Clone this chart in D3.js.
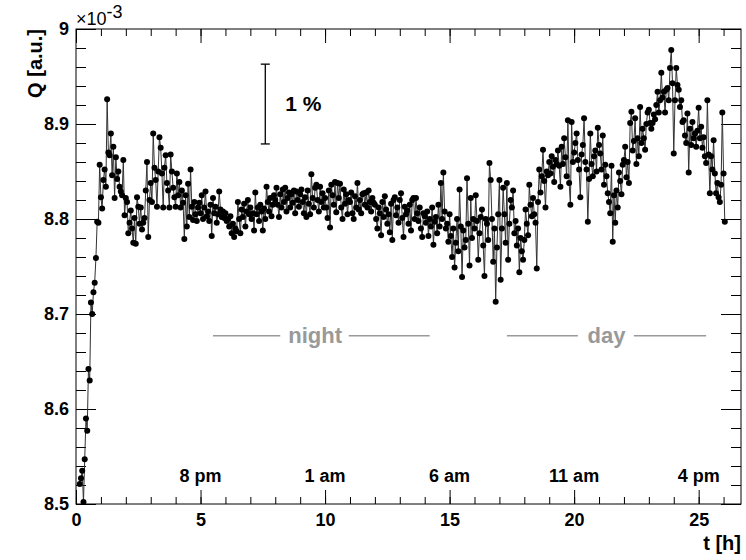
<!DOCTYPE html>
<html lang="en">
<head>
<meta charset="utf-8" />
<title>Q versus time</title>
<script src="https://cdn.jsdelivr.net/npm/d3@7"></script>
<style>
  body { margin: 0; background: #fff; }
  svg text { font-family: "Liberation Sans", Arial, Helvetica, sans-serif; }
</style>
</head>
<body>
<div id="chart"></div>
<script>
/*******************************************
 * data
 *******************************************/

// sampling of the measurement
const tStart = 0.15; // h, first sample
const tStep = 0.05;  // h between samples

// Q in units of 1e-3, one row per hour
const q = [
  // 0 h
  8.521, 8.527, 8.535, 8.502, 8.547, 8.590, 8.577, 8.642, 8.630, 8.712, 8.700, 8.723, 8.733, 8.759, 8.797, 8.796, 8.857,
  // 1 h
  8.823, 8.811, 8.841, 8.852, 8.834, 8.926, 8.870, 8.867, 8.890, 8.846, 8.876, 8.822, 8.865, 8.842, 8.850, 8.834, 8.829, 8.825, 8.862, 8.804,
  // 2 h
  8.822, 8.818, 8.785, 8.796, 8.809, 8.790, 8.775, 8.801, 8.774, 8.823, 8.813, 8.795, 8.812, 8.789, 8.796, 8.801, 8.830, 8.860, 8.781, 8.820,
  // 3 h
  8.838, 8.818, 8.890, 8.854, 8.841, 8.813, 8.850, 8.886, 8.875, 8.848, 8.812, 8.854, 8.867, 8.838, 8.830, 8.812, 8.868, 8.850, 8.833, 8.823,
  // 4 h
  8.813, 8.848, 8.825, 8.839, 8.812, 8.830, 8.817, 8.779, 8.825, 8.792, 8.837, 8.802, 8.852, 8.813, 8.799, 8.818, 8.805, 8.798, 8.812, 8.817,
  // 5 h
  8.806, 8.825, 8.800, 8.812, 8.829, 8.803, 8.808, 8.798, 8.815, 8.782, 8.822, 8.806, 8.813, 8.796, 8.805, 8.829, 8.810, 8.802, 8.808, 8.801,
  // 6 h
  8.806, 8.798, 8.800, 8.792, 8.803, 8.785, 8.795, 8.781, 8.790, 8.787, 8.818, 8.800, 8.785, 8.810, 8.802, 8.816, 8.792, 8.808, 8.820, 8.805,
  // 7 h
  8.812, 8.800, 8.806, 8.788, 8.828, 8.805, 8.812, 8.798, 8.815, 8.808, 8.788, 8.811, 8.800, 8.834, 8.818, 8.808, 8.822, 8.803, 8.815, 8.825,
  // 8 h
  8.820, 8.833, 8.815, 8.802, 8.826, 8.812, 8.831, 8.818, 8.833, 8.808, 8.822, 8.828, 8.812, 8.826, 8.817, 8.830, 8.806, 8.829, 8.820, 8.813,
  // 9 h
  8.826, 8.831, 8.818, 8.806, 8.823, 8.802, 8.830, 8.816, 8.805, 8.847, 8.822, 8.812, 8.833, 8.836, 8.820, 8.808, 8.834, 8.818, 8.827, 8.812,
  // 10 h
  8.822, 8.812, 8.801, 8.830, 8.791, 8.836, 8.825, 8.815, 8.839, 8.807, 8.838, 8.822, 8.837, 8.812, 8.800, 8.831, 8.816, 8.826, 8.805, 8.820,
  // 11 h
  8.818, 8.828, 8.806, 8.800, 8.824, 8.812, 8.838, 8.810, 8.820, 8.806, 8.826, 8.827, 8.815, 8.828, 8.812, 8.830, 8.818, 8.808, 8.822, 8.817,
  // 12 h
  8.815, 8.800, 8.790, 8.812, 8.806, 8.783, 8.818, 8.802, 8.824, 8.810, 8.795, 8.805, 8.786, 8.816, 8.778, 8.820, 8.823, 8.804, 8.812, 8.796,
  // 13 h
  8.820, 8.827, 8.801, 8.781, 8.813, 8.805, 8.809, 8.795, 8.815, 8.788, 8.820, 8.822, 8.800, 8.822, 8.806, 8.798, 8.812, 8.790, 8.781, 8.806,
  // 14 h
  8.803, 8.796, 8.808, 8.782, 8.800, 8.792, 8.812, 8.773, 8.797, 8.802, 8.785, 8.815, 8.792, 8.838, 8.800, 8.849, 8.808, 8.790, 8.795, 8.776,
  // 15 h
  8.805, 8.782, 8.760, 8.790, 8.749, 8.775, 8.800, 8.766, 8.831, 8.792, 8.739, 8.788, 8.770, 8.778, 8.843, 8.795, 8.751, 8.822, 8.780, 8.800,
  // 16 h
  8.790, 8.825, 8.798, 8.757, 8.785, 8.802, 8.810, 8.772, 8.740, 8.800, 8.795, 8.778, 8.859, 8.841, 8.800, 8.755, 8.790, 8.713, 8.770, 8.805,
  // 17 h
  8.841, 8.736, 8.790, 8.833, 8.805, 8.775, 8.838, 8.757, 8.795, 8.820, 8.812, 8.830, 8.785, 8.798, 8.772, 8.790, 8.744, 8.780, 8.766, 8.757,
  // 18 h
  8.778, 8.810, 8.795, 8.783, 8.836, 8.815, 8.803, 8.822, 8.805, 8.796, 8.748, 8.818, 8.852, 8.828, 8.845, 8.873, 8.840, 8.812, 8.850, 8.846,
  // 19 h
  8.860, 8.848, 8.866, 8.855, 8.839, 8.862, 8.858, 8.872, 8.856, 8.834, 8.876, 8.858, 8.885, 8.865, 8.845, 8.904, 8.838, 8.815, 8.902, 8.860,
  // 20 h
  8.870, 8.880, 8.890, 8.862, 8.852, 8.823, 8.868, 8.878, 8.906, 8.860, 8.852, 8.797, 8.842, 8.890, 8.858, 8.845, 8.866, 8.872, 8.850, 8.896,
  // 21 h
  8.878, 8.869, 8.852, 8.888, 8.836, 8.857, 8.845, 8.827, 8.818, 8.806, 8.856, 8.776, 8.825, 8.796, 8.830, 8.812, 8.849, 8.840, 8.826, 8.857,
  // 22 h
  8.862, 8.876, 8.844, 8.860, 8.838, 8.901, 8.913, 8.872, 8.882, 8.906, 8.858, 8.885, 8.866, 8.918, 8.880, 8.895, 8.885, 8.873, 8.900, 8.912,
  // 23 h
  8.915, 8.901, 8.895, 8.901, 8.910, 8.905, 8.920, 8.934, 8.912, 8.925, 8.954, 8.928, 8.934, 8.912, 8.936, 8.938, 8.925, 8.959, 8.978, 8.943,
  // 24 h
  8.869, 8.925, 8.959, 8.941, 8.936, 8.918, 8.925, 8.902, 8.904, 8.888, 8.880, 8.911, 8.849, 8.895, 8.878, 8.902, 8.885, 8.890, 8.876, 8.893,
  // 25 h
  8.917, 8.885, 8.897, 8.875, 8.886, 8.866, 8.859, 8.925, 8.868, 8.827, 8.866, 8.852, 8.883, 8.848, 8.827, 8.838, 8.823, 8.818, 8.836, 8.912,
  // 26 h
  8.848, 8.797
];

// axes
const xTicks = [0, 5, 10, 15, 20, 25];
const xTickLabels = ["0", "5", "10", "15", "20", "25"];
const yTicks = [8.5, 8.6, 8.7, 8.8, 8.9, 9.0];
const yTickLabels = ["8.5", "8.6", "8.7", "8.8", "8.9", "9"];

// annotations
const clockT = [5, 10, 15, 20, 25];
const clockLabels = ["8 pm", "1 am", "6 am", "11 am", "4 pm"];
const periodNames = ["night", "day"];
const periodCenterT = [9.6, 21.3];
const periodLineT = [[5.5, 8.2, 10.95, 14.2], [17.3, 20.15, 22.4, 25.3]];
const scaleBarQ = [8.879, 8.963]; // the "1 %" bar

/*******************************************
 * svg and scales
 *******************************************/

const width = 746;
const height = 560;
const frame = { left: 76, right: 741, top: 29, bottom: 504 };

const svg = d3.select("#chart").append("svg")
  .attr("width", width)
  .attr("height", height);

const xScale = d3.scaleLinear().domain([0, 26.7]).range([frame.left, frame.right]);
const yScale = d3.scaleLinear().domain([8.5, 9.0]).range([frame.bottom, frame.top]);

const points = q.map((v, i) => ({ t: tStart + i * tStep, v: v }));

/*******************************************
 * axes (ROOT style, ticks pointing inwards)
 *******************************************/

const xMinor = d3.range(0, 27);
const yMinor = d3.range(0, 26).map((i) => 8.5 + i * 0.02);

function styleAxis(g) {
  g.select(".domain").remove();
  g.selectAll("line").attr("stroke", "#000");
  g.attr("font-size", 18)
    .attr("font-weight", "bold")
    .attr("font-family", null);
  g.selectAll("text").attr("fill", "#000");
}

// bottom
svg.append("g").attr("transform", `translate(0,${frame.bottom})`)
  .call(d3.axisBottom(xScale).tickValues(xMinor).tickSize(-7).tickFormat(""))
  .call(styleAxis);
svg.append("g").attr("transform", `translate(0,${frame.bottom})`)
  .call(d3.axisBottom(xScale).tickValues(xTicks).tickSize(-14).tickPadding(9)
    .tickFormat((d, i) => xTickLabels[i]))
  .call(styleAxis);

// top
svg.append("g").attr("transform", `translate(0,${frame.top})`)
  .call(d3.axisTop(xScale).tickValues(xMinor).tickSize(-7).tickFormat(""))
  .call(styleAxis);
svg.append("g").attr("transform", `translate(0,${frame.top})`)
  .call(d3.axisTop(xScale).tickValues(xTicks).tickSize(-14).tickFormat(""))
  .call(styleAxis);

// left
svg.append("g").attr("transform", `translate(${frame.left},0)`)
  .call(d3.axisLeft(yScale).tickValues(yMinor).tickSize(-10).tickFormat(""))
  .call(styleAxis);
svg.append("g").attr("transform", `translate(${frame.left},0)`)
  .call(d3.axisLeft(yScale).tickValues(yTicks).tickSize(-20).tickPadding(7)
    .tickFormat((d, i) => yTickLabels[i]))
  .call(styleAxis);

// right
svg.append("g").attr("transform", `translate(${frame.right},0)`)
  .call(d3.axisRight(yScale).tickValues(yMinor).tickSize(-10).tickFormat(""))
  .call(styleAxis);
svg.append("g").attr("transform", `translate(${frame.right},0)`)
  .call(d3.axisRight(yScale).tickValues(yTicks).tickSize(-20).tickFormat(""))
  .call(styleAxis);

// frame
svg.append("rect")
  .attr("x", frame.left)
  .attr("y", frame.top)
  .attr("width", frame.right - frame.left)
  .attr("height", frame.bottom - frame.top)
  .attr("fill", "none")
  .attr("stroke", "#000")
  .attr("stroke-width", 1);

// exponent
const expo = svg.append("text")
  .attr("x", frame.left)
  .attr("y", 25)
  .attr("font-size", 18);
expo.append("tspan").text("\u00d710");
expo.append("tspan").attr("font-size", 18).attr("dy", -7).text("-3");

// axis titles
svg.append("text")
  .attr("transform", `translate(42,${frame.top}) rotate(-90)`)
  .attr("text-anchor", "end")
  .attr("font-size", 20)
  .attr("font-weight", "bold")
  .text("Q [a.u.]");

svg.append("text")
  .attr("x", frame.right)
  .attr("y", 550)
  .attr("text-anchor", "end")
  .attr("font-size", 20)
  .attr("font-weight", "bold")
  .text("t [h]");

/*******************************************
 * data line and markers
 *******************************************/

const line = d3.line()
  .x((d) => xScale(d.t))
  .y((d) => yScale(d.v));

svg.append("path")
  .datum(points)
  .attr("d", line)
  .attr("fill", "none")
  .attr("stroke", "#333")
  .attr("stroke-width", 1);

svg.append("g")
  .selectAll("circle")
  .data(points)
  .enter()
  .append("circle")
  .attr("cx", (d) => xScale(d.t))
  .attr("cy", (d) => yScale(d.v))
  .attr("r", 3)
  .attr("fill", "#000");

/*******************************************
 * annotations
 *******************************************/

// clock times
svg.append("g")
  .selectAll("text")
  .data(clockLabels)
  .enter()
  .append("text")
  .attr("x", (d, i) => xScale(clockT[i]))
  .attr("y", yScale(8.523))
  .attr("text-anchor", "middle")
  .attr("font-size", 18)
  .attr("font-weight", "bold")
  .text((d) => d);

// night / day
const yPeriod = yScale(8.677);
periodNames.forEach((name, i) => {
  svg.append("text")
    .attr("x", xScale(periodCenterT[i]))
    .attr("y", yPeriod + 7)
    .attr("text-anchor", "middle")
    .attr("font-size", 22)
    .attr("font-weight", "bold")
    .attr("fill", "#999")
    .text(name);
  const seg = periodLineT[i];
  [[seg[0], seg[1]], [seg[2], seg[3]]].forEach((s) => {
    svg.append("line")
      .attr("x1", xScale(s[0]))
      .attr("x2", xScale(s[1]))
      .attr("y1", yPeriod)
      .attr("y2", yPeriod)
      .attr("stroke", "#999")
      .attr("stroke-width", 1.5);
  });
});

// 1 % bar
const barX = xScale(7.6);
const bar = svg.append("g").attr("stroke", "#000").attr("stroke-width", 1.3);
bar.append("line")
  .attr("x1", barX).attr("x2", barX)
  .attr("y1", yScale(scaleBarQ[0])).attr("y2", yScale(scaleBarQ[1]));
scaleBarQ.forEach((v) => {
  bar.append("line")
    .attr("x1", barX - 4.5).attr("x2", barX + 4.5)
    .attr("y1", yScale(v)).attr("y2", yScale(v));
});
svg.append("text")
  .attr("x", barX + 20)
  .attr("y", yScale(8.9135))
  .attr("font-size", 21)
  .attr("font-weight", "bold")
  .text("1 %");
</script>
</body>
</html>
